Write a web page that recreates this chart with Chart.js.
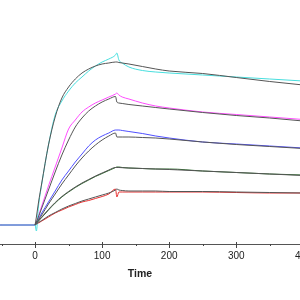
<!DOCTYPE html>
<html>
<head>
<meta charset="utf-8">
<script src="https://cdn.jsdelivr.net/npm/chart.js@4"></script>
<style>
  html, body { margin: 0; padding: 0; background: #fff; overflow: hidden; }
  #wrap { position: absolute; left: -32px; top: 0; width: 344px; height: 300px; }
</style>
</head>
<body>
<div id="wrap"><canvas id="sensorgram" width="344" height="300"></canvas></div>
<script>
// time points (s) shared by every curve
const times = [-100, -50, 0, 2, 5, 10, 20, 30, 40, 50, 60, 70, 80, 90, 100, 110, 120, 122, 125, 130, 140, 160, 180, 200, 250, 300, 350, 400];

// measured responses (RU), highest concentration first
const cyanObs    = [0, 0, 0, -6, 18, 41, 80, 110, 124, 134, 142, 148, 154, 159, 163, 166, 170, 172, 165, 162, 158, 154.5, 153, 152, 150, 148, 146, 144];
const magentaObs = [0, 0, 0, 3, 9, 19, 39, 58, 77, 96, 105, 113, 118, 122, 125, 128, 131, 132, 130, 128, 126, 122, 119, 117, 113, 110.5, 108, 105.5];
const blueObs    = [0, 0, 0, 2, 6, 12, 23, 34, 45, 54, 63, 71, 79, 85, 89, 92, 95, 95, 95, 94.5, 93.5, 91.5, 89, 87, 83, 81, 79, 77];
const greenObs   = [0, 0, 0, 1.5, 4, 7.5, 15, 22, 28, 33, 37.5, 41.5, 45, 48.5, 51.5, 54.5, 57.5, 58, 58, 57.5, 57, 56.5, 56, 56, 54, 52.5, 51, 50];
const redObs     = [0, 0, 0, 1, 2, 4, 8, 12, 15, 18, 20.5, 23, 24.5, 26.5, 28.5, 31, 36, 28, 33, 33, 33, 33, 33, 33, 33, 32.5, 32, 32];

// fitted curves (black), nothing before injection
const cyanFit    = [null, null, 0, 8, 22, 42, 80, 108, 127, 138, 146, 152, 156, 159, 161, 162, 163, 163, 162.5, 162, 161, 158.5, 156, 154, 151.5, 147.5, 143.5, 140];
const magentaFit = [null, null, 0, 3, 8, 17, 35, 53, 70, 85, 98, 107, 114, 119, 123, 126, 128.5, 123, 122, 121.5, 120.5, 119, 117.5, 116, 112.5, 109.5, 107, 104];
const blueFit    = [null, null, 0, 2, 5, 10, 21, 31, 41, 50, 59, 67, 74, 80, 85, 89, 92, 88, 88, 88, 88, 87.5, 87, 86, 83, 80.5, 78.5, 76.5];
const greenFit   = [null, null, 0, 1.5, 4, 8, 15.5, 22.5, 28.5, 33.5, 38, 42, 45.5, 49, 52, 55, 57.5, 57.5, 57.5, 57.3, 57, 56.5, 56, 55.5, 54, 52.5, 51, 49.5];
const redFit     = [null, null, 0, 1, 2.5, 4.5, 9, 12.5, 16, 19, 21.5, 24, 26, 28, 30, 32, 35, 36, 35, 34.5, 34, 34, 34, 33.5, 33.5, 33, 32.5, 32];

const obsSeries = [
  [cyanObs, "#48dede"],
  [magentaObs, "#ff4cff"],
  [blueObs, "#5050ff"],
  [greenObs, "#2f6f2f"],
  [redObs, "#e83030"]
];
const fitSeries = [cyanFit, magentaFit, blueFit, greenFit, redFit];

const toPoints = function(vals) {
  return times.map((t, i) => ({ x: t, y: vals[i] }));
};

const datasets = [];
fitSeries.forEach(vals => {
  datasets.push({ data: toPoints(vals), borderColor: "#555", borderWidth: 1, order: 0 });
});
obsSeries.forEach(([vals, color]) => {
  datasets.push({ data: toPoints(vals), borderColor: color, borderWidth: 1, order: 1 });
});

// tick marks that cross the axis line, long on hundreds, short on fifties
const crossTicks = {
  id: "crossTicks",
  afterDraw(chart) {
    const xs = chart.scales.x;
    const ctx = chart.ctx;
    const y = xs.top + 0.5;
    ctx.save();
    ctx.strokeStyle = "#444";
    ctx.lineWidth = 1;
    xs.ticks.forEach(tk => {
      const px = Math.round(xs.getPixelForValue(tk.value)) + 0.5;
      const len = tk.value % 100 === 0 ? 3 : 1;
      ctx.beginPath();
      ctx.moveTo(px, y - len);
      ctx.lineTo(px, y + len);
      ctx.stroke();
    });
    ctx.restore();
  }
};

new Chart(document.getElementById("sensorgram").getContext("2d"), {
  type: "line",
  data: { datasets: datasets },
  options: {
    responsive: false,
    animation: false,
    layout: { autoPadding: false, padding: { top: 0, left: 0, right: 0, bottom: 21 } },
    elements: {
      point: { radius: 0 },
      line: { cubicInterpolationMode: "monotone", fill: false }
    },
    plugins: { legend: { display: false }, tooltip: { enabled: false } },
    scales: {
      x: {
        type: "linear",
        min: -100,
        max: 413,
        grid: { display: false, drawTicks: true, tickLength: 6 },
        border: { display: true, color: "#555", width: 1 },
        ticks: {
          stepSize: 50,
          maxTicksLimit: 20,
          includeBounds: false,
          padding: 0,
          color: "#222",
          font: { family: "'Liberation Sans', Arial, sans-serif", size: 10 },
          maxRotation: 0,
          autoSkip: false,
          callback: v => (v >= 0 && v % 100 === 0 ? String(v) : "")
        },
        title: {
          display: true,
          text: "Time",
          color: "#222",
          padding: { top: 6, bottom: 0 },
          font: { family: "'Liberation Sans', Arial, sans-serif", size: 10.5, weight: "bold", lineHeight: 1 }
        }
      },
      y: {
        display: false,
        min: -19.5,
        max: 225
      }
    }
  },
  plugins: [crossTicks]
});
</script>
</body>
</html>
